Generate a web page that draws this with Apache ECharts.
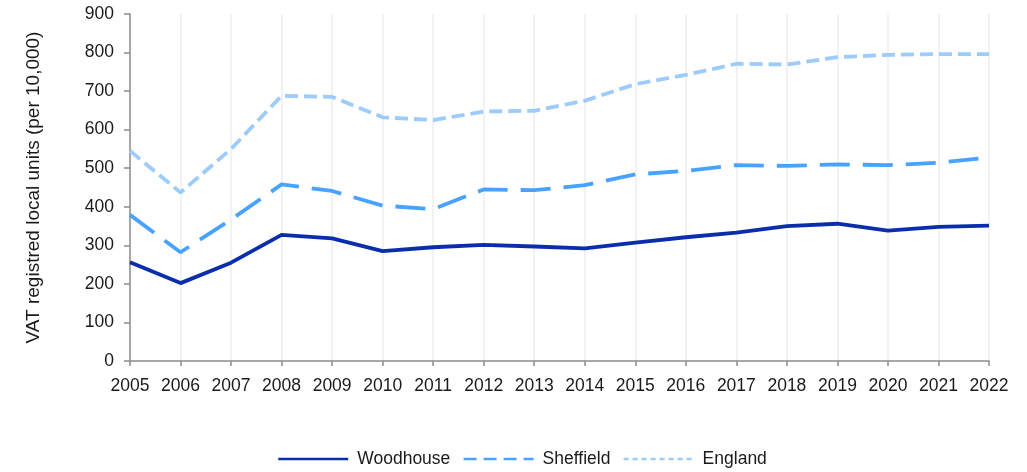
<!DOCTYPE html>
<html>
<head>
<meta charset="utf-8">
<script src="https://cdn.jsdelivr.net/npm/echarts@6/dist/echarts.min.js"></script>
<style>
  html, body { margin: 0; padding: 0; background: #fff; }
  #chart { width: 1027px; height: 472px; }
</style>
</head>
<body>
<div id="chart"></div>
<script>
// VAT registered local units per 10,000 population, 2005–2022
const years = ['2005','2006','2007','2008','2009','2010','2011','2012','2013',
               '2014','2015','2016','2017','2018','2019','2020','2021','2022'];
const woodhouse = [256, 202, 255, 327, 318, 285, 295, 301, 297, 292, 307, 321, 333, 350, 356, 338, 348, 351];
const sheffield = [379, 282, 367, 458, 441, 403, 394, 445, 443, 456, 484, 493, 508, 506, 510, 508, 514, 528];
const england   = [545, 437, 550, 688, 685, 632, 625, 647, 649, 675, 718, 742, 771, 769, 788, 794, 796, 796];
const yTicks    = [0, 100, 200, 300, 400, 500, 600, 700, 800, 900];

const font = '"Liberation Sans", Arial, sans-serif';
const textColor = '#1a1a1a';
const axisGrey = '#8c8c8c';

const colors = { woodhouse: '#0a2eab', sheffield: '#47a3ff', england: '#9ccbfc' };

const chart = echarts.init(document.getElementById('chart'), null, { renderer: 'canvas' });

function lineSeries(name, data, color, type) {
  return {
    name, type: 'line', data,
    symbol: 'none',
    smooth: false,
    lineStyle: { color, width: 3.8, type, cap: 'butt' },
    itemStyle: { color },
    emphasis: { disabled: true }
  };
}

chart.setOption({
  animation: false,
  backgroundColor: '#fff',
  grid: { left: 130, right: 38, top: 14, bottom: 111, containLabel: false },
  xAxis: {
    type: 'category',
    data: years,
    boundaryGap: false,
    axisLine: { lineStyle: { color: axisGrey, width: 1.5 } },
    axisTick: { show: true, interval: 0, length: 5, alignWithLabel: true, lineStyle: { color: axisGrey, width: 1.5 } },
    axisLabel: { interval: 0, color: textColor, fontFamily: font, fontSize: 17.5, margin: 16 },
    splitLine: { show: true, interval: 0, lineStyle: { color: '#eeeeee', width: 1.5 } }
  },
  yAxis: {
    type: 'value',
    min: yTicks[0],
    max: yTicks[yTicks.length - 1],
    interval: 100,
    name: 'VAT registred local units (per 10,000)',
    nameLocation: 'middle',
    nameGap: 87,
    nameTextStyle: { color: textColor, fontFamily: font, fontSize: 19 },
    axisLine: { show: true, lineStyle: { color: axisGrey, width: 1.5 } },
    axisTick: { show: true, length: 6, lineStyle: { color: axisGrey, width: 1.5 } },
    axisLabel: { color: textColor, fontFamily: font, fontSize: 17.5, margin: 16 },
    splitLine: { show: false }
  },
  legend: {
    top: 450,
    left: 277,
    padding: 0,
    itemWidth: 70,
    itemHeight: 18,
    itemGap: 12,
    itemStyle: { opacity: 0 },
    textStyle: { color: textColor, fontFamily: font, fontSize: 17.5, padding: [0, 0, 0, 4] },
    data: [
      { name: 'Woodhouse', lineStyle: { color: colors.woodhouse, width: 2.5, type: 'solid' } },
      { name: 'Sheffield', lineStyle: { color: colors.sheffield, width: 2.5, type: [13, 7] } },
      { name: 'England', lineStyle: { color: colors.england, width: 2.5, type: [5, 4] } }
    ]
  },
  series: [
    lineSeries('Woodhouse', woodhouse, colors.woodhouse, 'solid'),
    lineSeries('Sheffield', sheffield, colors.sheffield, [30, 13]),
    lineSeries('England', england, colors.england, [13, 6])
  ]
});
</script>
</body>
</html>
